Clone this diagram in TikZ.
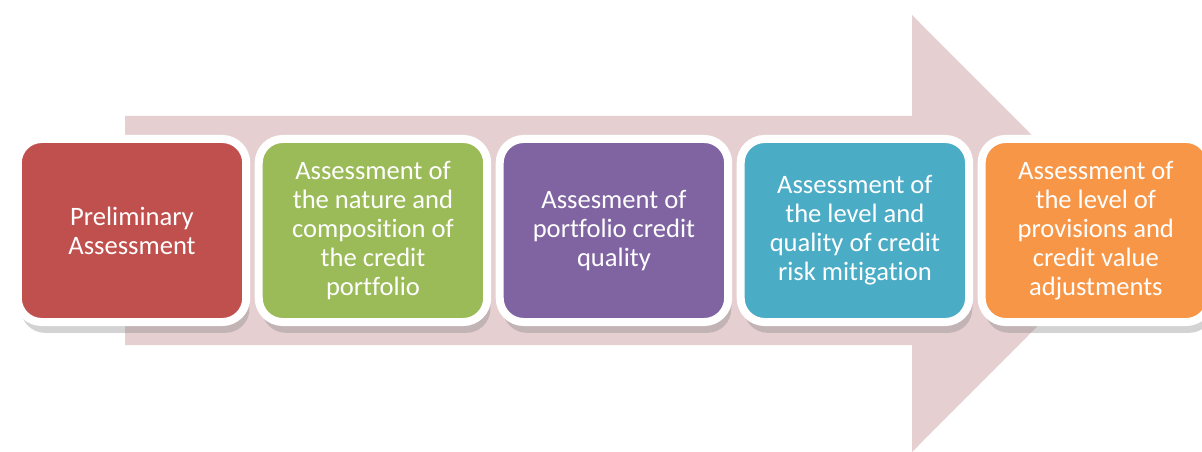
\documentclass[tikz,border=0pt]{standalone}
\usepackage{fontspec}
\newfontfamily\stagefont[Ligatures=NoCommon]{Carlito}
\usepackage{tikz}
\usetikzlibrary{shadows,positioning}

\definecolor{arrowpink}{HTML}{E6CFD0}
\definecolor{stagered}{HTML}{C0504D}
\definecolor{stagegreen}{HTML}{9BBB59}
\definecolor{stagepurple}{HTML}{8064A2}
\definecolor{stageteal}{HTML}{4BACC6}
\definecolor{stageorange}{HTML}{F79646}

\begin{document}
\begin{tikzpicture}[x=0.025cm, y=-0.025cm, node distance=0.3125cm,
    stagebox/.style={draw=white, line width=0.2cm, rounded corners=0.6cm,
        minimum width=5.71cm, minimum height=4.575cm, inner sep=0pt, outer sep=0pt,
        text=white, align=center,
        font=\stagefont\fontsize{18.9pt}{20.6pt}\selectfont,
        drop shadow={shadow xshift=0.08cm, shadow yshift=-0.27cm, opacity=0.35}}]
        \useasboundingbox (0,0) rectangle (1202,452);

        % Draw the big arrow behind the stages
        \fill[arrowpink] (125,116) -- (912,116) -- (912,15) -- (1130,233.5)
            -- (912,452) -- (912,345) -- (125,345) -- cycle;

        % Draw the stages
        \node[stagebox, fill=stagered] (stage1) at (132,230.5)
            {Preliminary\\Assessment};
        \node[stagebox, fill=stagegreen, right=of stage1] (stage2)
            {Assessment of\\the nature and\\composition of\\the credit\\portfolio};
        \node[stagebox, fill=stagepurple, right=of stage2] (stage3)
            {Assesment of\\portfolio credit\\quality};
        \node[stagebox, fill=stageteal, right=of stage3] (stage4)
            {Assessment of\\the level and\\quality of credit\\risk mitigation};
        \node[stagebox, fill=stageorange, right=of stage4] (stage5)
            {Assessment of\\the level of\\provisions and\\credit value\\adjustments};
    \end{tikzpicture}
\end{document}
